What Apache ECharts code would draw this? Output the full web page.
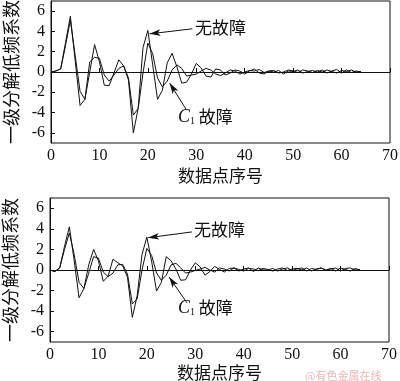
<!DOCTYPE html>
<html><head><meta charset="utf-8">
<script src="https://cdn.jsdelivr.net/npm/echarts@6/dist/echarts.min.js"></script>
<style>html,body{margin:0;padding:0;background:#fff}#c{width:400px;height:381px}</style>
</head><body><div id="c"></div>
<script>
// Data point index 0..64
const xIndex = Array.from({length: 65}, (_, i) => i);
// Upper panel
const topNoFault = [0,0.1,0.3,2.9,5.5,1.1,-3.3,-2.7,0.0,2.7,1.0,-1.3,-1.35,-0.1,1.2,0.6,-0.8,-6.0,-3.6,2.4,4.1,0.7,-2.7,-1.8,0.9,1.85,0.5,-1.1,-1.0,-0.2,0.85,0.4,-0.4,-0.5,0.3,0.2,-0.3,-0.1,0.2,0.1,-0.2,0.1,0.3,-0.1,-0.2,0.1,0.0,0.15,-0.2,0.1,0.05,0.2,-0.1,0.05,0.15,0.0,0.2,-0.1,0.1,0.25,-0.1,0.2,-0.05,0.1,0.0];
const topC1Fault = [0,0.1,0.3,2.6,5.1,1.6,-1.9,-2.7,1.0,1.45,1.35,-0.3,-0.9,-0.3,0.35,0.6,-0.6,-4.25,-3.6,-0.1,2.85,1.8,-0.6,-1.45,-0.9,0.2,0.7,0.35,-0.4,-0.3,-0.2,0.1,0.35,0.2,-0.2,-0.35,-0.1,0.2,0.1,-0.2,0.0,0.15,0.1,0.25,-0.05,0.1,0.15,-0.1,0.0,0.2,0.1,-0.05,0.2,0.1,-0.05,0.15,0.0,0.2,0.05,-0.1,0.15,0.05,0.2,0.0,0.05];
// Lower panel
const botNoFault = [0,-0.15,0.2,2.3,4.2,0.9,-2.7,-1.8,0.5,2.0,0.9,-1.1,-0.6,1.05,0.7,0.4,-0.7,-4.6,-2.5,1.5,3.2,0.8,-2.05,-1.2,1.3,0.9,0.1,-1.0,-0.95,0.0,0.7,0.3,-0.5,-0.15,0.35,0.05,-0.2,0.15,0.2,-0.1,0.1,0.2,-0.15,0.2,0.0,0.0,0.15,-0.1,0.1,0.2,-0.05,0.1,0.2,-0.1,0.15,0.05,0.2,-0.05,0.1,0.2,-0.1,0.15,0.2,0.0,0.05];
const botC1Fault = [0,-0.15,0.2,2.0,3.6,1.5,-1.2,-1.8,-0.3,1.3,1.15,-0.2,-0.65,-0.3,0.5,0.55,-0.4,-3.3,-2.8,0.0,2.1,1.4,-0.3,-1.0,-0.5,0.5,0.65,0.2,-0.3,-0.2,-0.05,0.1,0.25,0.0,-0.2,0.2,0.1,-0.1,0.2,0.05,-0.1,0.15,0.1,-0.05,0.15,0.05,-0.1,0.1,0.2,-0.05,0.1,0.15,0.0,0.2,-0.1,0.1,0.2,0.0,0.15,-0.1,0.2,0.05,-0.1,0.15,0.0];
const yTicks = [-6,-4,-2,0,2,4,6];
const xName = '数据点序号';
const yName = '一级分解低频系数';
const labelNoFault = '无故障';
const labelC1 = 'C';
const labelC1Sub = '1';
const labelFault = '故障';
const watermark = '@有色金属在线';
// annotation arrows in data coordinates [tail, tip]
const topArrowNo = [[29.2, 4.26], [20.35, 3.76]];
const topArrowC1 = [[28.0, -3.76], [24.5, -1.09]];
const botArrowNo = [[29.3, 3.7], [20.25, 3.14]];
const botArrowC1 = [[28.3, -3.2], [24.6, -0.69]];

const serif = '"Liberation Serif","DejaVu Serif",serif';
const cjk = '"Noto Sans CJK SC","Liberation Serif",serif';

function pairs(ys){ return xIndex.map((x,i)=>[x, ys[i]]); }
function arrow(a){
  return {silent:true, symbol:['none','arrow'], symbolSize:[5,11],
    lineStyle:{color:'#111', width:1, type:'solid'}, label:{show:false},
    data:[[{coord:a[0]},{coord:a[1]}]]};
}
const grids = [
  {left:51, top:1, right:10, height:142},
  {left:50, top:198, right:11, height:144}
];
function xAx(i){
  return {type:'value', gridIndex:i, min:0, max:70, interval:10,
    axisLine:{lineStyle:{color:'#111', width:1}},
    axisTick:{inside:true, length:4, lineStyle:{color:'#111'}},
    axisLabel:{color:'#111', fontFamily:serif, fontSize:16, margin:5},
    splitLine:{show:false},
    name:xName, nameLocation:'middle', nameGap:i===0?24:21,
    nameTextStyle:{color:'#111', fontFamily:cjk, fontSize:17}};
}
function yAx(i){
  return {type:'value', gridIndex:i, min:-7, max:7,
    axisLine:{lineStyle:{color:'#111', width:1}},
    axisTick:{inside:true, length:4, customValues:yTicks, lineStyle:{color:'#111'}},
    axisLabel:{color:'#111', fontFamily:serif, fontSize:16, margin:6, customValues:yTicks},
    splitLine:{show:false},
    name:yName, nameLocation:'middle', nameGap:31, nameRotate:90,
    nameTextStyle:{color:'#111', fontFamily:cjk, fontSize:18}};
}
function line(data, i, ml){
  return {type:'line', xAxisIndex:i, yAxisIndex:i, data:pairs(data), showSymbol:false,
    symbol:'none', lineStyle:{color:'#111', width:1}, animation:false, markLine:ml};
}
function c1Text(x, y){
  return {type:'text', left:x, top:y, style:{
    rich:{c:{fontFamily:serif, fontStyle:'italic', fontSize:18, fill:'#111'},
          s:{fontFamily:serif, fontSize:10, fill:'#111', verticalAlign:'bottom', padding:[8,0,0,0]},
          f:{fontFamily:cjk, fontSize:17, fill:'#111'}},
    text:'{c|'+labelC1+'}{s|'+labelC1Sub+'}{f| '+labelFault+'}'}};
}
const chart = echarts.init(document.getElementById('c'), null, {renderer:'canvas'});
chart.setOption({
  animation:false,
  backgroundColor:'#fff',
  grid: grids.map(g=>Object.assign({show:true, borderColor:'#111', borderWidth:1, backgroundColor:'transparent', containLabel:false, outerBoundsMode:'none'}, g)),
  xAxis:[xAx(0), xAx(1)],
  yAxis:[yAx(0), yAx(1)],
  series:[
    line(topNoFault,0,arrow(topArrowNo)),
    line(topC1Fault,0,arrow(topArrowC1)),
    line(botNoFault,1,arrow(botArrowNo)),
    line(botC1Fault,1,arrow(botArrowC1))
  ],
  graphic:[
    {type:'text', left:195, top:19, style:{text:labelNoFault, fontFamily:cjk, fontSize:17, fill:'#111'}},
    c1Text(178, 108),
    {type:'text', left:194, top:221, style:{text:labelNoFault, fontFamily:cjk, fontSize:17, fill:'#111'}},
    c1Text(178, 299),
    {type:'text', left:305, top:370, style:{text:watermark, fontFamily:cjk, fontSize:11, fill:'#f0b4b4'}}
  ]
});
</script></body></html>
